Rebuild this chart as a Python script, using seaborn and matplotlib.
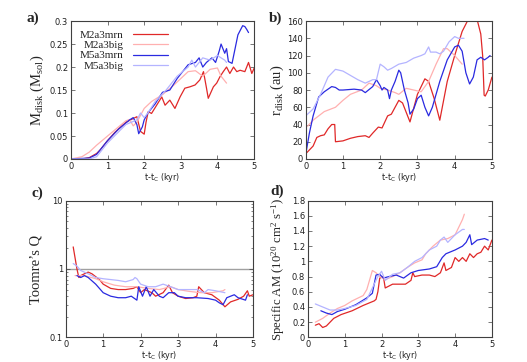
import numpy as np
import pandas as pd
import matplotlib
matplotlib.use("Agg")
import matplotlib.pyplot as plt
import seaborn as sns
from matplotlib.ticker import FuncFormatter, MultipleLocator

# ---------------- data ----------------
series_names = ["M2a3mrn", "M2a3big", "M5a3mrn", "M5a3big"]
series_colors = ["#e02828", "#ffb0b0", "#2a2ae0", "#b4b4ff"]

# panel a: disk mass (Msol)
a_mrn2_t = [0, 0.3, 0.5, 0.7, 0.8, 1.0, 1.2, 1.5, 1.65, 1.8, 1.9, 2.0, 2.05, 2.11, 2.2, 2.34, 2.48, 2.57, 2.7, 2.84, 2.98, 3.11, 3.25, 3.39, 3.52, 3.62, 3.7, 3.75, 3.89, 3.98, 4.07, 4.16, 4.25, 4.34, 4.44, 4.53, 4.62, 4.75, 4.85, 4.94, 5.0]
a_mrn2_v = [0, 0.0, 0.003, 0.012, 0.02, 0.04, 0.058, 0.08, 0.086, 0.092, 0.06, 0.054, 0.08, 0.103, 0.099, 0.117, 0.135, 0.117, 0.128, 0.11, 0.135, 0.154, 0.157, 0.161, 0.172, 0.19, 0.155, 0.132, 0.157, 0.165, 0.179, 0.19, 0.2, 0.186, 0.2, 0.19, 0.193, 0.19, 0.21, 0.186, 0.197]
a_big2_t = [0, 0.3, 0.5, 0.7, 1.0, 1.3, 1.5, 1.6, 1.7, 1.8, 2.0, 2.2, 2.5, 2.8, 3.0, 3.2, 3.4, 3.6, 3.8, 4.0, 4.1, 4.25]
a_big2_v = [0, 0.005, 0.015, 0.03, 0.05, 0.07, 0.083, 0.086, 0.072, 0.08, 0.11, 0.125, 0.14, 0.16, 0.175, 0.19, 0.192, 0.18, 0.195, 0.198, 0.18, 0.165]
a_mrn5_t = [0, 0.5, 0.7, 1.0, 1.3, 1.6, 1.7, 1.8, 1.85, 1.95, 2.0, 2.1, 2.3, 2.5, 2.7, 2.9, 3.1, 3.2, 3.4, 3.5, 3.6, 3.7, 3.85, 3.95, 4.05, 4.1, 4.2, 4.25, 4.3, 4.4, 4.56, 4.69, 4.75, 4.8, 4.85]
a_mrn5_v = [0, 0.002, 0.01, 0.04, 0.065, 0.085, 0.09, 0.075, 0.055, 0.07, 0.085, 0.1, 0.12, 0.145, 0.15, 0.175, 0.195, 0.205, 0.21, 0.22, 0.2, 0.21, 0.22, 0.21, 0.235, 0.25, 0.23, 0.24, 0.212, 0.208, 0.27, 0.29, 0.288, 0.282, 0.275]
a_big5_t = [0, 0.5, 0.7, 1.0, 1.5, 1.8, 1.9, 2.0, 2.1, 2.3, 2.6, 2.9, 3.2, 3.3, 3.4, 3.6, 3.8, 4.0, 4.2, 4.25]
a_big5_v = [0, 0.0, 0.005, 0.035, 0.075, 0.085, 0.1, 0.09, 0.1, 0.125, 0.15, 0.18, 0.2, 0.215, 0.2, 0.22, 0.215, 0.225, 0.215, 0.21]

# panel b: disk radius (au)
b_mrn2_t = [0, 0.2, 0.3, 0.4, 0.5, 0.6, 0.7, 0.78, 0.8, 1.0, 1.2, 1.4, 1.6, 1.7, 1.8, 1.95, 2.05, 2.2, 2.3, 2.5, 2.6, 2.8, 3.0, 3.2, 3.3, 3.45, 3.6, 3.8, 4.0, 4.2, 4.4, 4.6, 4.7, 4.75, 4.79, 4.82, 4.9, 5.0]
b_mrn2_v = [6, 15, 25, 27, 28, 35, 40, 40, 20, 21, 24, 26, 27, 25, 30, 37, 36, 50, 52, 68, 65, 43, 75, 93, 90, 70, 45, 90, 120, 148, 165, 162, 145, 120, 74, 73, 80, 95]
b_big2_t = [0.05, 0.2, 0.5, 0.8, 1.0, 1.2, 1.5, 1.7, 1.9, 2.0, 2.2, 2.4, 2.5, 2.7, 2.9, 3.1, 3.3, 3.5, 3.7, 3.8, 4.0, 4.2]
b_big2_v = [38, 45, 55, 60, 68, 75, 80, 88, 85, 82, 80, 77, 75, 82, 80, 78, 90, 110, 128, 128, 120, 110]
b_mrn5_t = [0, 0.1, 0.2, 0.35, 0.5, 0.7, 0.8, 0.9, 1.0, 1.3, 1.5, 1.6, 1.8, 1.9, 2.0, 2.05, 2.1, 2.2, 2.25, 2.3, 2.4, 2.5, 2.55, 2.65, 2.75, 2.8, 2.9, 3.0, 3.1, 3.2, 3.3, 3.4, 3.6, 3.8, 4.0, 4.1, 4.2, 4.3, 4.4, 4.5, 4.6, 4.7, 4.8, 4.9, 4.95]
b_mrn5_v = [5, 30, 50, 72, 78, 84, 83, 80, 80, 81, 80, 77, 84, 92, 85, 80, 83, 80, 70, 80, 90, 103, 100, 80, 65, 52, 58, 70, 74, 60, 50, 60, 90, 115, 130, 132, 125, 100, 87, 95, 115, 118, 115, 118, 120]
b_big5_t = [0, 0.2, 0.4, 0.6, 0.8, 1.0, 1.2, 1.4, 1.6, 1.7, 1.8, 1.9, 2.0, 2.1, 2.2, 2.3, 2.5, 2.7, 2.9, 3.1, 3.2, 3.3, 3.35, 3.5, 3.6, 3.7, 3.85, 4.0, 4.1, 4.25]
b_big5_v = [50, 58, 75, 95, 104, 102, 97, 92, 88, 90, 92, 92, 110, 107, 103, 105, 110, 112, 117, 120, 122, 130, 124, 124, 122, 125, 136, 142, 140, 140]

# panel c: Toomre's Q
c_mrn2_t = [0.2, 0.3, 0.35, 0.4, 0.5, 0.6, 0.7, 0.9, 1.0, 1.2, 1.4, 1.6, 1.8, 1.9, 2.0, 2.1, 2.3, 2.4, 2.6, 2.75, 2.85, 3.0, 3.2, 3.4, 3.5, 3.55, 3.7, 3.9, 4.1, 4.25, 4.4, 4.6, 4.75, 4.85, 4.9, 5.0]
c_mrn2_v = [2.1, 1.0, 0.75, 0.8, 0.85, 0.9, 0.85, 0.7, 0.6, 0.52, 0.5, 0.5, 0.52, 0.55, 0.45, 0.5, 0.45, 0.4, 0.45, 0.58, 0.45, 0.4, 0.37, 0.38, 0.4, 0.55, 0.45, 0.42, 0.35, 0.28, 0.33, 0.36, 0.4, 0.48, 0.4, 0.42]
c_big2_t = [0.25, 0.5, 0.8, 1.0, 1.3, 1.6, 1.9, 2.2, 2.5, 2.8, 3.0, 3.3, 3.6, 3.9, 4.2, 4.25]
c_big2_v = [0.8, 0.8, 0.72, 0.65, 0.58, 0.55, 0.55, 0.52, 0.5, 0.55, 0.5, 0.47, 0.45, 0.45, 0.48, 0.5]
c_mrn5_t = [0.3, 0.4, 0.5, 0.6, 0.8, 1.0, 1.2, 1.4, 1.6, 1.75, 1.9, 1.95, 2.05, 2.15, 2.25, 2.35, 2.5, 2.6, 2.75, 2.9, 3.0, 3.2, 3.5, 3.8, 4.0, 4.1, 4.2, 4.3, 4.5, 4.6, 4.8, 4.85]
c_mrn5_v = [0.8, 0.75, 0.8, 0.75, 0.6, 0.45, 0.4, 0.38, 0.38, 0.4, 0.35, 0.55, 0.4, 0.55, 0.4, 0.5, 0.4, 0.38, 0.45, 0.45, 0.4, 0.38, 0.38, 0.37, 0.35, 0.32, 0.3, 0.38, 0.42, 0.38, 0.35, 0.42]
c_big5_t = [0.2, 0.3, 0.4, 0.6, 0.8, 1.0, 1.2, 1.4, 1.6, 1.8, 1.85, 1.9, 2.0, 2.2, 2.4, 2.6, 2.8, 3.0, 3.2, 3.5, 3.7, 3.8, 4.0, 4.25]
c_big5_v = [1.2, 1.1, 0.95, 0.85, 0.75, 0.72, 0.7, 0.68, 0.65, 0.7, 0.75, 0.72, 0.6, 0.55, 0.55, 0.6, 0.55, 0.5, 0.5, 0.5, 0.45, 0.5, 0.48, 0.45]

# panel d: specific angular momentum (1e20 cm^2/s)
d_mrn2_t = [0.2, 0.3, 0.4, 0.5, 0.7, 0.9, 1.2, 1.5, 1.8, 1.85, 1.9, 1.95, 2.05, 2.1, 2.3, 2.5, 2.65, 2.8, 2.85, 2.9, 3.1, 3.3, 3.45, 3.6, 3.7, 3.75, 3.9, 4.0, 4.1, 4.2, 4.3, 4.4, 4.5, 4.6, 4.7, 4.8, 4.9, 5.0]
d_mrn2_v = [0.16, 0.18, 0.13, 0.15, 0.25, 0.3, 0.35, 0.42, 0.48, 0.5, 0.6, 0.78, 0.8, 0.65, 0.7, 0.7, 0.7, 0.75, 0.85, 0.8, 0.82, 0.82, 0.8, 0.85, 0.98, 0.88, 0.92, 1.05, 1.0, 1.05, 1.0, 1.1, 1.05, 1.1, 1.12, 1.2, 1.15, 1.28]
d_big2_t = [0.2, 0.4, 0.6, 0.8, 1.0, 1.2, 1.5, 1.6, 1.75, 1.85, 1.95, 2.1, 2.3, 2.5, 2.7, 2.9, 3.1, 3.2, 3.4, 3.6, 3.8, 4.0, 4.1, 4.2, 4.25]
d_big2_v = [0.2, 0.25, 0.32, 0.38, 0.42, 0.48, 0.55, 0.63, 0.88, 0.85, 0.8, 0.76, 0.8, 0.85, 0.92, 0.98, 1.02, 1.1, 1.2, 1.28, 1.3, 1.35, 1.45, 1.55, 1.62]
d_mrn5_t = [0.35, 0.5, 0.65, 0.8, 1.0, 1.3, 1.6, 1.75, 1.85, 1.95, 2.05, 2.2, 2.4, 2.6, 2.8, 3.0, 3.3, 3.5, 3.65, 3.75, 4.0, 4.2, 4.3, 4.4, 4.45, 4.6, 4.8, 4.9]
d_mrn5_v = [0.35, 0.32, 0.3, 0.34, 0.37, 0.43, 0.52, 0.58, 0.82, 0.83, 0.78, 0.8, 0.82, 0.78, 0.85, 0.88, 0.9, 0.93, 1.05, 1.1, 1.15, 1.2, 1.25, 1.35, 1.22, 1.28, 1.3, 1.28]
d_big5_t = [0.2, 0.4, 0.6, 0.8, 1.0, 1.3, 1.6, 1.9, 2.0, 2.1, 2.3, 2.5, 2.7, 2.9, 3.1, 3.3, 3.5, 3.6, 3.7, 3.8, 4.0, 4.2, 4.25]
d_big5_v = [0.44, 0.4, 0.36, 0.36, 0.38, 0.42, 0.5, 0.8, 0.87, 0.75, 0.83, 0.85, 0.92, 1.0, 1.05, 1.15, 1.2, 1.28, 1.32, 1.25, 1.35, 1.42, 1.42]

x_ticks = [0, 1, 2, 3, 4, 5]
x_label = "t-t$_\\mathregular{C}$ (kyr)"

# ---------------- style ----------------
sns.set_theme(style="ticks")
plt.rcParams["font.family"] = ["DejaVu Sans"]
plt.rcParams["mathtext.fontset"] = "stix"
plt.rcParams["axes.edgecolor"] = "#404040"
plt.rcParams["axes.linewidth"] = 0.8

fig = plt.figure(figsize=(5.27, 3.62), dpi=100)
ax_a = fig.add_axes([0.1347, 0.5608, 0.3473, 0.381])
ax_b = fig.add_axes([0.5800, 0.5608, 0.3535, 0.381])
ax_c = fig.add_axes([0.1247, 0.0680, 0.3554, 0.378])
ax_d = fig.add_axes([0.5844, 0.0680, 0.3490, 0.378])

def draw(ax, data):
    for (t, v), name, col in zip(data, series_names, series_colors):
        df = pd.DataFrame({"t": t, "v": v})
        sns.lineplot(data=df, x="t", y="v", ax=ax, color=col, lw=0.9,
                     sort=False, estimator=None, label=name)
    if ax.get_legend():
        ax.get_legend().remove()

draw(ax_a, [(a_mrn2_t, a_mrn2_v), (a_big2_t, a_big2_v), (a_mrn5_t, a_mrn5_v), (a_big5_t, a_big5_v)])
draw(ax_b, [(b_mrn2_t, b_mrn2_v), (b_big2_t, b_big2_v), (b_mrn5_t, b_mrn5_v), (b_big5_t, b_big5_v)])
draw(ax_c, [(c_mrn2_t, c_mrn2_v), (c_big2_t, c_big2_v), (c_mrn5_t, c_mrn5_v), (c_big5_t, c_big5_v)])
draw(ax_d, [(d_mrn2_t, d_mrn2_v), (d_big2_t, d_big2_v), (d_mrn5_t, d_mrn5_v), (d_big5_t, d_big5_v)])

ax_c.axhline(1.0, color="#a0a0a0", lw=1.0, zorder=0)

fmt = FuncFormatter(lambda v, p: "%g" % round(v, 6))
for ax in (ax_a, ax_b, ax_c, ax_d):
    ax.set_xlim(0, 5)
    ax.set_xticks(x_ticks)
    ax.xaxis.set_major_formatter(fmt)
    ax.yaxis.set_major_formatter(fmt)
    ax.tick_params(direction="in", top=True, right=True, labelsize=6,
                   length=3, width=0.5, colors="#404040", labelcolor="#202020", pad=2)
    ax.tick_params(which="minor", direction="in", top=True, right=True, length=1.5, width=0.4)
    ax.set_xlabel(x_label, fontsize=5.8, labelpad=0, color="#202020")
    for s in ax.spines.values():
        s.set_visible(True)

ax_a.set_ylim(0, 0.3)
ax_a.yaxis.set_major_locator(MultipleLocator(0.05))
ax_b.set_ylim(0, 160)
ax_b.yaxis.set_major_locator(MultipleLocator(20))
ax_c.set_yscale("log")
ax_c.set_ylim(0.1, 10)
ax_c.yaxis.set_major_formatter(fmt)
ax_c.yaxis.set_minor_formatter(FuncFormatter(lambda v, p: ""))
ax_d.set_ylim(0, 1.8)
ax_d.yaxis.set_major_locator(MultipleLocator(0.2))

ylab_kw = dict(fontsize=10.5, family="Liberation Serif")
ax_a.set_ylabel("M$_{\\mathregular{disk}}$ (M$_{\\mathregular{sol}}$)", labelpad=3, **ylab_kw)
ax_b.set_ylabel("r$_{\\mathregular{disk}}$ (au)", labelpad=1, **ylab_kw)
ax_c.set_ylabel("Toomre\u2019s Q", labelpad=5, **ylab_kw)
ax_d.set_ylabel("Specific AM (10$^{\\mathregular{20}}$ cm$^{\\mathregular{2}}$ s$^{\\mathregular{-1}}$)",
                labelpad=3, fontsize=9.2, family="Liberation Serif")

# legend in panel a (gnuplot style: text then sample)
handles, labels = ax_a.get_legend_handles_labels()
leg = ax_a.legend(handles, labels, loc="upper left", bbox_to_anchor=(0.0, 1.0),
                  frameon=False, markerfirst=False, handlelength=3.2,
                  prop={"family": "Liberation Serif", "size": 8},
                  labelspacing=0.05, borderpad=0.3, handletextpad=0.8)
for t in leg.get_texts():
    t.set_ha("right")
leg._legend_box.align = "right"

# panel labels
lab_kw = dict(fontsize=11, family="Liberation Serif", fontweight="bold", ha="center", va="center")
fig.text(33 / 527, 1 - 18 / 362, "a)", **lab_kw)
fig.text(276 / 527, 1 - 18 / 362, "b)", **lab_kw)
fig.text(37 / 527, 1 - 193 / 362, "c)", **lab_kw)
fig.text(277 / 527, 1 - 191 / 362, "d)", **lab_kw)

fig.savefig("out.png", dpi=100)
